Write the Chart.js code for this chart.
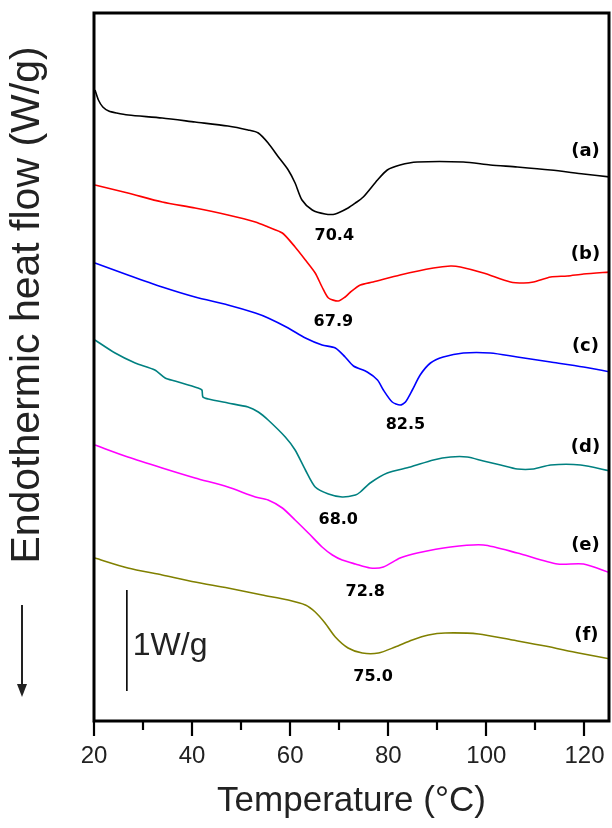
<!DOCTYPE html>
<html>
<head>
<meta charset="utf-8">
<script src="https://cdn.jsdelivr.net/npm/chart.js@4.4.1/dist/chart.umd.min.js"></script>
<style>
    html, body { margin: 0; padding: 0; background: #ffffff; }
    #wrap { width: 612px; height: 828px; position: relative; }
</style>
</head>
<body>
<div id="wrap"><canvas id="dscChart" width="612" height="828"></canvas></div>
<script>
// DSC traces, temperature in °C, heat flow in W/g (offset per trace)
const tempA = [20.2, 20.9, 21.8, 23.0, 24.6, 27.0, 33.9, 40.6, 47.3, 51.4, 53.5, 55.5, 57.6, 59.6, 61.0, 62.4, 64.5, 67.1, 69.2, 71.8, 73.3, 74.9, 77.8, 79.8, 82.4, 85.9, 95.3, 100.8, 106.3, 113.1, 119.8, 125.3];
const flowA = [6.31, 6.21, 6.14, 6.10, 6.08, 6.06, 6.03, 5.99, 5.95, 5.91, 5.88, 5.78, 5.64, 5.51, 5.38, 5.21, 5.11, 5.07, 5.07, 5.13, 5.18, 5.24, 5.41, 5.51, 5.56, 5.59, 5.59, 5.56, 5.54, 5.51, 5.47, 5.44];

const tempB = [20.2, 26.9, 33.9, 40.6, 47.3, 52.9, 55.5, 58.4, 61.0, 63.1, 65.1, 66.5, 67.8, 69.8, 71.2, 72.3, 74.3, 76.9, 82.4, 89.2, 92.7, 94.7, 99.4, 104.9, 107.6, 109.6, 113.1, 116.5, 119.8, 125.3];
const flowB = [5.36, 5.28, 5.19, 5.13, 5.06, 4.99, 4.94, 4.88, 4.74, 4.61, 4.48, 4.34, 4.23, 4.20, 4.24, 4.29, 4.36, 4.39, 4.46, 4.53, 4.55, 4.54, 4.48, 4.39, 4.38, 4.39, 4.44, 4.45, 4.47, 4.49];

const tempC = [20.2, 26.9, 33.9, 40.6, 47.3, 52.9, 55.5, 59.6, 63.1, 66.5, 69.2, 71.2, 72.9, 75.7, 77.8, 79.0, 80.8, 82.4, 83.5, 84.9, 86.5, 88.6, 91.2, 95.3, 100.8, 106.3, 113.1, 119.8, 125.3];
const flowC = [4.58, 4.46, 4.34, 4.24, 4.16, 4.08, 4.03, 3.93, 3.83, 3.76, 3.73, 3.64, 3.55, 3.49, 3.41, 3.31, 3.19, 3.16, 3.19, 3.31, 3.46, 3.58, 3.64, 3.68, 3.68, 3.64, 3.59, 3.54, 3.49];

const tempD = [20.2, 24.3, 28.4, 32.4, 34.5, 36.5, 41.2, 42.0, 42.2, 43.3, 47.3, 51.4, 53.5, 55.5, 59.0, 61.0, 63.1, 65.1, 67.8, 70.6, 73.3, 74.3, 76.3, 79.8, 84.5, 89.2, 92.7, 96.1, 99.4, 102.9, 106.3, 109.6, 113.1, 119.2, 125.3];
const flowD = [3.81, 3.68, 3.58, 3.51, 3.43, 3.40, 3.33, 3.31, 3.24, 3.22, 3.18, 3.14, 3.09, 3.01, 2.84, 2.71, 2.51, 2.34, 2.27, 2.24, 2.26, 2.29, 2.38, 2.48, 2.54, 2.61, 2.64, 2.64, 2.60, 2.56, 2.52, 2.52, 2.56, 2.56, 2.50];

const tempE = [20.2, 26.9, 33.9, 40.6, 47.3, 52.9, 55.5, 58.4, 61.0, 63.7, 66.5, 68.6, 70.6, 73.3, 76.3, 79.0, 82.4, 85.9, 92.7, 99.4, 106.3, 114.5, 119.8, 125.3];
const flowE = [2.76, 2.64, 2.53, 2.43, 2.34, 2.24, 2.21, 2.13, 2.01, 1.88, 1.74, 1.66, 1.61, 1.57, 1.53, 1.54, 1.63, 1.68, 1.74, 1.76, 1.68, 1.57, 1.57, 1.48];

const tempF = [20.2, 26.9, 33.9, 40.6, 47.3, 54.3, 59.6, 63.1, 65.1, 67.1, 69.2, 71.8, 74.7, 78.0, 81.4, 84.9, 88.2, 91.6, 98.4, 105.3, 112.0, 118.8, 125.3];
const flowF = [1.63, 1.53, 1.46, 1.39, 1.33, 1.26, 1.21, 1.16, 1.09, 0.98, 0.84, 0.73, 0.68, 0.68, 0.74, 0.81, 0.86, 0.88, 0.87, 0.81, 0.75, 0.68, 0.62];

// trace names and colours
const traceNames = ['(a)', '(b)', '(c)', '(d)', '(e)', '(f)'];
const traceColors = ['#000000', '#ff0000', '#0000ff', '#008080', '#ff00ff', '#808000'];
// where the trace name sits (temperature, heat flow)
const nameTemps = [120.2, 120.2, 120.2, 120.2, 120.2, 120.4];
const nameFlows = [5.70, 4.67, 3.75, 2.74, 1.76, 0.86];

// peak temperature labels
const peakTexts = ['70.4', '67.9', '82.5', '68.0', '72.8', '75.0'];
const peakTemps = [69.0, 68.8, 83.5, 69.8, 75.3, 76.9];
const peakFlows = [4.85, 3.99, 2.96, 2.01, 1.29, 0.44];

// x axis ticks
const xMin = 20;
const xMax = 125;
const xTickStep = 10;

const series = [
    [tempA, flowA], [tempB, flowB], [tempC, flowC],
    [tempD, flowD], [tempE, flowE], [tempF, flowF]
];

const datasets = series.map((s, i) => ({
    label: traceNames[i],
    data: s[0].map((t, k) => ({ x: t, y: s[1][k] })),
    borderColor: traceColors[i],
    borderWidth: 1.6,
    pointRadius: 0,
    fill: false,
    tension: 0.25
}));

// frame, tick marks, text labels, scale bar, y label and arrow
const decorations = {
    id: 'decorations',
    afterDatasetsDraw(chart) {
        const ctx = chart.ctx;
        const area = chart.chartArea;
        const xs = chart.scales.x;
        const ys = chart.scales.y;
        ctx.save();

        // tick marks below the bottom axis
        ctx.strokeStyle = '#000';
        ctx.lineWidth = 2.2;
        for (let v = xMin; v <= 120; v += xTickStep) {
            const px = Math.round(xs.getPixelForValue(v));
            const len = v % 20 === 0 ? 15 : 9;
            ctx.beginPath();
            ctx.moveTo(px, area.bottom);
            ctx.lineTo(px, area.bottom + len);
            ctx.stroke();
        }

        // box around the plot
        ctx.lineWidth = 3;
        ctx.strokeRect(area.left, area.top, area.right - area.left, area.bottom - area.top);

        // trace names
        ctx.fillStyle = '#000';
        ctx.font = 'bold 18px "DejaVu Sans"';
        ctx.textAlign = 'center';
        ctx.textBaseline = 'middle';
        traceNames.forEach((n, i) => {
            ctx.fillText(n, xs.getPixelForValue(nameTemps[i]), ys.getPixelForValue(nameFlows[i]));
        });

        // peak labels
        ctx.font = 'bold 16px "DejaVu Sans"';
        peakTexts.forEach((t, i) => {
            ctx.fillText(t, xs.getPixelForValue(peakTemps[i]), ys.getPixelForValue(peakFlows[i]));
        });

        // 1 W/g scale bar
        const barX = xs.getPixelForValue(26.7);
        ctx.lineWidth = 1.6;
        ctx.beginPath();
        ctx.moveTo(barX, ys.getPixelForValue(1.31));
        ctx.lineTo(barX, ys.getPixelForValue(0.30));
        ctx.stroke();
        ctx.font = '32px "Liberation Sans"';
        ctx.textAlign = 'left';
        ctx.textBaseline = 'alphabetic';
        ctx.fillStyle = '#222';
        ctx.fillText('1W/g', xs.getPixelForValue(27.9), ys.getPixelForValue(0.66));

        ctx.restore();
    },
    afterDraw(chart) {
        const ctx = chart.ctx;
        ctx.save();
        // rotated y axis title
        ctx.translate(28, 305);
        ctx.rotate(-Math.PI / 2);
        ctx.font = '41px "Liberation Sans"';
        ctx.fillStyle = '#222';
        ctx.textAlign = 'center';
        ctx.textBaseline = 'middle';
        ctx.fillText('Endothermic heat flow (W/g)', 0, 0);
        ctx.restore();

        // downward arrow
        ctx.save();
        ctx.strokeStyle = '#222';
        ctx.fillStyle = '#222';
        ctx.lineWidth = 2;
        ctx.beginPath();
        ctx.moveTo(22, 605);
        ctx.lineTo(22, 688);
        ctx.stroke();
        ctx.beginPath();
        ctx.moveTo(17, 684);
        ctx.lineTo(27, 684);
        ctx.lineTo(22, 697);
        ctx.closePath();
        ctx.fill();
        ctx.restore();
    }
};

const chart = new Chart(document.getElementById('dscChart').getContext('2d'), {
    type: 'line',
    data: { datasets },
    plugins: [decorations],
    options: {
        responsive: false,
        animation: false,
        layout: { padding: { left: 94, top: 13, right: 3, bottom: 0 } },
        plugins: {
            legend: { display: false },
            tooltip: { enabled: false }
        },
        scales: {
            x: {
                type: 'linear',
                min: xMin,
                max: xMax,
                afterFit: (scale) => { scale.height = 107; },
                border: { display: false },
                grid: {
                    display: true,
                    drawOnChartArea: false,
                    drawTicks: true,
                    tickLength: 15,
                    color: 'rgba(0,0,0,0)'
                },
                ticks: {
                    stepSize: xTickStep,
                    includeBounds: false,
                    autoSkip: false,
                    maxRotation: 0,
                    padding: 6,
                    color: '#222',
                    font: { family: '"Liberation Sans"', size: 24 },
                    callback: (v) => (v % 20 === 0 ? v : '')
                },
                title: {
                    display: true,
                    text: 'Temperature (°C)',
                    color: '#222',
                    font: { family: '"Liberation Sans"', size: 35 },
                    padding: { top: 0, bottom: 6 }
                }
            },
            y: {
                display: false,
                min: 0,
                max: 7.08
            }
        }
    }
});
</script>
</body>
</html>
